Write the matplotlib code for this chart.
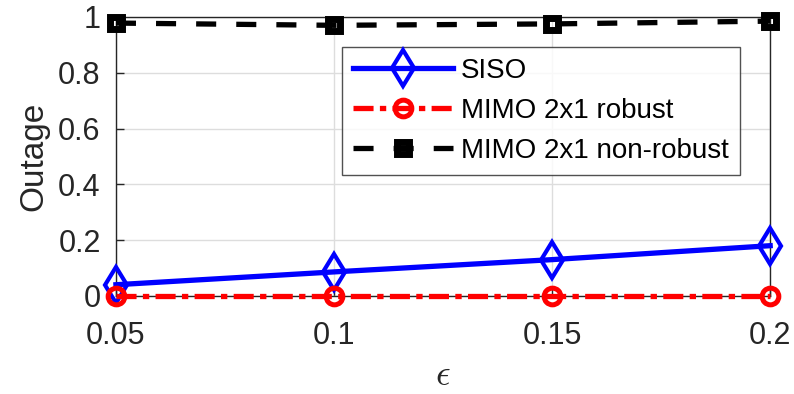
import matplotlib
matplotlib.use('Agg')
import matplotlib.pyplot as plt

plt.rcParams['font.family'] = ['Liberation Sans', 'DejaVu Sans']
plt.rcParams['mathtext.fontset'] = 'cm'

# data
eps = [0.05, 0.1, 0.15, 0.2]
siso = [0.04, 0.086, 0.13, 0.18]
mimo_robust = [0.0, 0.0, 0.0, 0.0]
mimo_nonrobust = [0.978, 0.97, 0.975, 0.985]

fig = plt.figure(figsize=(7.94, 3.94), dpi=100)
ax = fig.add_axes([0.146, 0.249, 0.824, 0.708])

ax.plot(eps, siso, color='blue', lw=3.8, marker='d', ms=18, mfc='none', mew=3,
        label='SISO', clip_on=False, zorder=3)
ax.plot(eps, mimo_robust, color='red', lw=3.8, ls=(0, (3.8, 1.2, 1.2, 1.2)), marker='o', ms=12,
        mfc='none', mew=3.6, label='MIMO 2x1 robust', clip_on=False, zorder=4)
ax.plot(eps, mimo_nonrobust, color='black', lw=3.8, ls=(0, (3.8, 3.8)), marker='s', ms=9,
        mfc='none', mew=5, label='MIMO 2x1 non-robust', clip_on=False, zorder=3)

ax.set_xlim(0.05, 0.2)
ax.set_ylim(0, 1)
ax.set_xticks(eps)
ax.set_xticklabels(['0.05', '0.1', '0.15', '0.2'])
ax.set_yticks([0, 0.2, 0.4, 0.6, 0.8, 1])
ax.set_yticklabels(['0', '0.2', '0.4', '0.6', '0.8', '1'])
ax.tick_params(direction='in', labelsize=22, colors='#262626', length=6, width=1)
ax.tick_params(axis='y', pad=11)
ax.tick_params(axis='x', pad=18)
ax.grid(True, color='#dddddd', lw=1)
ax.set_axisbelow(True)
for s in ax.spines.values():
    s.set_color('#262626')
    s.set_linewidth(1)

ax.set_ylabel('Outage', fontsize=24, color='#262626', labelpad=6)
ax.set_xlabel(r'$\epsilon$', fontsize=26, color='#262626', labelpad=5)

leg = ax.legend(loc='upper right', bbox_to_anchor=(0.954, 0.893), fontsize=20,
                frameon=True, fancybox=False, edgecolor='#262626', handlelength=3.6,
                borderpad=0.4, labelspacing=0.5, handletextpad=0.3, borderaxespad=0)
leg.get_frame().set_linewidth(1)

fig.savefig('out.png', dpi=100)
